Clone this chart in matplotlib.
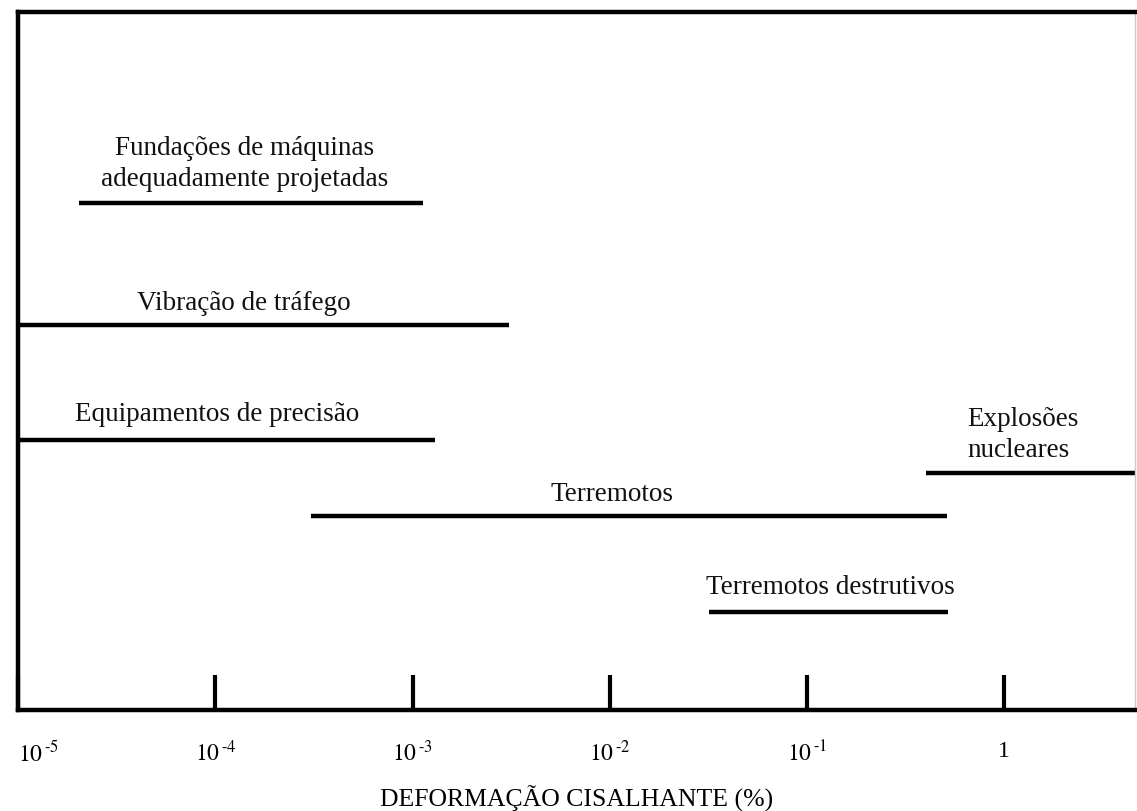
import matplotlib
matplotlib.use("Agg")
import matplotlib.pyplot as plt

plt.rcParams['font.family'] = ['Liberation Serif', 'DejaVu Serif']
plt.rcParams['mathtext.fontset'] = 'stix'

# faixas de deformação cisalhante (%) para cada tipo de solicitação
nomes = ["Fundações de máquinas\nadequadamente projetadas",
         "Vibração de tráfego",
         "Equipamentos de precisão",
         "Explosões\nnucleares",
         "Terremotos",
         "Terremotos destrutivos"]
inicio = [2.05e-5, 1e-5, 1e-5, 0.40, 3.05e-4, 0.032]
fim = [1.13e-3, 3.1e-3, 1.3e-3, 4.6, 0.51, 0.52]
nivel = [0.726, 0.552, 0.387, 0.340, 0.278, 0.140]

# posição dos rótulos (x em %, y relativo)
rot_x = [1.41e-4, 1.4e-4, 1.02e-4, 0.65, 1.03e-2, 0.131]
rot_y = [0.782, 0.583, 0.423, 0.394, 0.309, 0.175]
rot_ha = ["center", "center", "center", "left", "center", "center"]

ticks = [1e-5, 1e-4, 1e-3, 1e-2, 1e-1, 1]
tick_labels = [r"$10^{\,\text{-}5}$", r"$10^{\,\text{-}4}$", r"$10^{\,\text{-}3}$",
               r"$10^{\,\text{-}2}$", r"$10^{\,\text{-}1}$", "1"]

fig = plt.figure(figsize=(11.37, 8.11), dpi=100)
ax = fig.add_axes([0.0158, 0.1245, 0.9825, 0.8605])

for a, b, y in zip(inicio, fim, nivel):
    ax.plot([a, b], [y, y], color="black", lw=3.2, solid_capstyle="butt")

for nome, x, y, ha in zip(nomes, rot_x, rot_y, rot_ha):
    ax.text(x, y, nome, ha=ha, va="center", fontsize=19.5,
            linespacing=1.32, color="#111111")

ax.set_xscale("log")
ax.set_xlim(1e-5, 4.6)
ax.set_ylim(0, 1)
ax.set_yticks([])
ax.set_xticks(ticks)
ax.set_xticklabels(tick_labels, fontsize=17)
ax.minorticks_off()
ax.tick_params(axis="x", direction="in", length=25, width=3, pad=22)
ax.get_xticklabels()[0].set_ha("left")

for s in ["left", "bottom", "top"]:
    ax.spines[s].set_linewidth(3.2)
ax.spines["right"].set_linewidth(1)
ax.spines["right"].set_color("#cccccc")

ax.set_xlabel("DEFORMAÇÃO CISALHANTE (%)", fontsize=18.5, labelpad=14)

fig.savefig("out.png", dpi=100)
